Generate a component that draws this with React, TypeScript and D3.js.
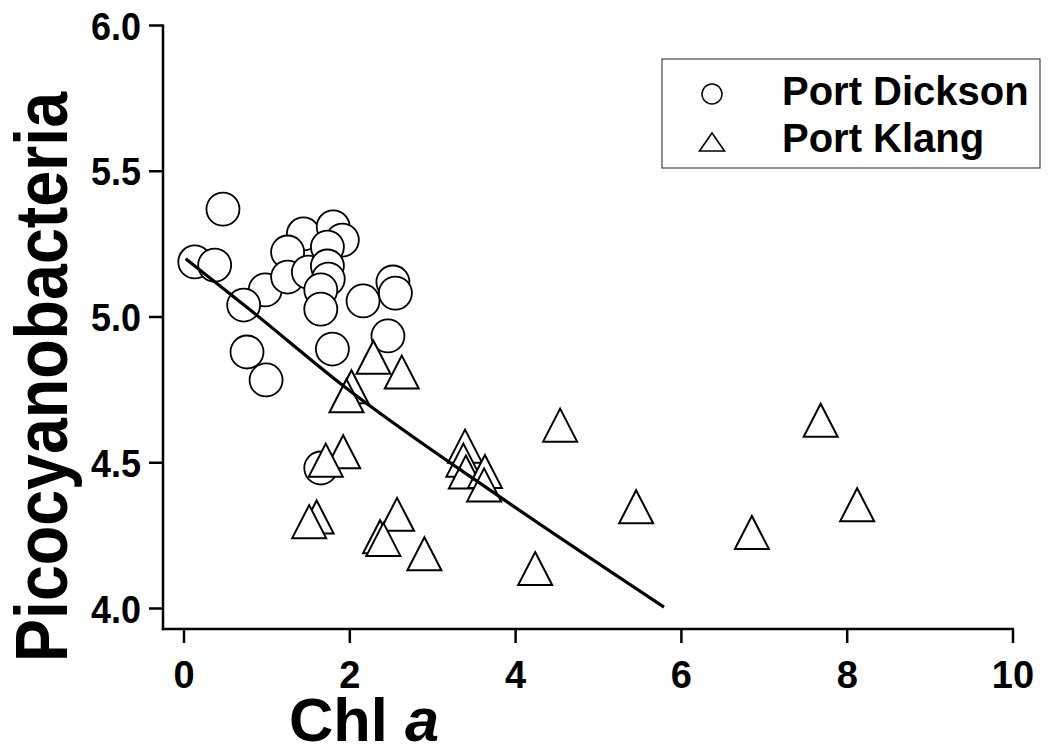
import React from "react";
import * as d3 from "d3";

// Port Dickson samples: [Chl a, Picocyanobacteria]
const portDicksonChl = [0.47, 0.13, 0.37, 0.98, 0.72, 1.44, 1.8, 1.91, 1.25, 1.73, 1.25, 1.5, 1.73, 1.74, 1.65, 1.65, 2.16, 2.52, 2.55, 2.46, 1.79, 0.76, 0.99, 1.65];
const portDicksonPico = [5.37, 5.189, 5.178, 5.093, 5.041, 5.285, 5.309, 5.264, 5.223, 5.24, 5.137, 5.154, 5.175, 5.13, 5.093, 5.027, 5.055, 5.12, 5.082, 4.935, 4.89, 4.88, 4.784, 4.482];

// Port Klang samples
const portKlangChl = [2.285, 2.627, 2.02, 1.96, 1.92, 1.71, 1.6, 1.51, 2.57, 2.365, 2.405, 2.9, 3.39, 3.37, 3.4, 3.63, 3.62, 4.537, 5.454, 4.236, 7.68, 8.12, 6.85];
const portKlangPico = [4.862, 4.811, 4.761, 4.73, 4.538, 4.509, 4.314, 4.298, 4.323, 4.246, 4.237, 4.188, 4.557, 4.509, 4.468, 4.47, 4.424, 4.629, 4.349, 4.137, 4.646, 4.356, 4.261];

// Fitted trend curve
const fitChl = [0.02, 0.8, 1.94, 3.81, 5.79];
const fitPico = [5.2, 5.024, 4.76, 4.383, 4.005];

const xTicks = [0, 2, 4, 6, 8, 10];
const yTicks = [4.0, 4.5, 5.0, 5.5, 6.0];
const seriesNames = ["Port Dickson", "Port Klang"];

const W = 1054;
const H = 756;
const FONT = "'Liberation Sans', Arial, Helvetica, sans-serif";

export default function App() {
  const x = d3.scaleLinear().domain([0, 10]).range([184, 1013]);
  const y = d3.scaleLinear().domain([4, 6]).range([608.5, 25.5]);

  const axisLeft = 163;
  const axisBottom = 629;

  const triPath = (w: number, h: number) =>
    `M0,${-h / 2}L${w / 2},${h / 2}L${-w / 2},${h / 2}Z`;

  const fitLine = d3
    .line<number>()
    .x((_, i) => x(fitChl[i]))
    .y((d) => y(d))
    .curve(d3.curveMonotoneX)(fitPico);

  return (
    <svg
      width={W}
      height={H}
      style={{ position: "absolute", left: 0, top: 0, background: "#fff" }}
      fontFamily={FONT}
    >
      {/* axes */}
      <line x1={axisLeft} x2={axisLeft} y1={y(6) - 1} y2={axisBottom + 1.25} stroke="#000" strokeWidth={2.5} />
      <line x1={axisLeft - 1.25} x2={x(10) + 1} y1={axisBottom} y2={axisBottom} stroke="#000" strokeWidth={2.5} />
      {yTicks.map((t) => (
        <g key={t}>
          <line x1={axisLeft - 14} x2={axisLeft} y1={y(t)} y2={y(t)} stroke="#000" strokeWidth={2.5} />
          <text
            x={141}
            y={y(t) + 14}
            textAnchor="end"
            fontSize={39}
            fontWeight="bold"
            textLength={50}
            lengthAdjust="spacingAndGlyphs"
          >
            {t.toFixed(1)}
          </text>
        </g>
      ))}
      {xTicks.map((t) => (
        <g key={t}>
          <line x1={x(t)} x2={x(t)} y1={axisBottom} y2={axisBottom + 14} stroke="#000" strokeWidth={2.5} />
          <text x={x(t)} y={688} textAnchor="middle" fontSize={38} fontWeight="bold">
            {t}
          </text>
        </g>
      ))}

      {/* axis titles */}
      <text
        transform="translate(67,377) rotate(-90)"
        textAnchor="middle"
        fontSize={74}
        fontWeight="bold"
        textLength={570}
        lengthAdjust="spacingAndGlyphs"
      >
        Picocyanobacteria
      </text>
      <text
        x={364}
        y={741}
        textAnchor="middle"
        fontSize={62}
        fontWeight="bold"
        textLength={150}
        lengthAdjust="spacingAndGlyphs"
      >
        Chl <tspan fontStyle="italic">a</tspan>
      </text>

      {/* Port Dickson */}
      {portDicksonChl.map((c, i) => (
        <circle
          key={"pd" + i}
          cx={x(c)}
          cy={y(portDicksonPico[i])}
          r={16.5}
          fill="#fff"
          stroke="#000"
          strokeWidth={1.8}
        />
      ))}

      {/* Port Klang */}
      {portKlangChl.map((c, i) => (
        <path
          key={"pk" + i}
          d={triPath(34, 33)}
          transform={`translate(${x(c)},${y(portKlangPico[i])})`}
          fill="#fff"
          stroke="#000"
          strokeWidth={2}
          strokeLinejoin="miter"
        />
      ))}

      {/* trend */}
      <path d={fitLine ?? ""} fill="none" stroke="#000" strokeWidth={3.2} />

      {/* legend */}
      <rect x={662} y={59} width={378} height={109} fill="#fff" stroke="#444" strokeWidth={1.2} />
      <circle cx={712} cy={94} r={10} fill="#fff" stroke="#000" strokeWidth={1.5} />
      <text x={782} y={105} fontSize={40} fontWeight="bold">
        {seriesNames[0]}
      </text>
      <path d={triPath(25, 18)} transform="translate(712,142)" fill="#fff" stroke="#000" strokeWidth={1.6} />
      <text x={782} y={152} fontSize={40} fontWeight="bold">
        {seriesNames[1]}
      </text>
    </svg>
  );
}
